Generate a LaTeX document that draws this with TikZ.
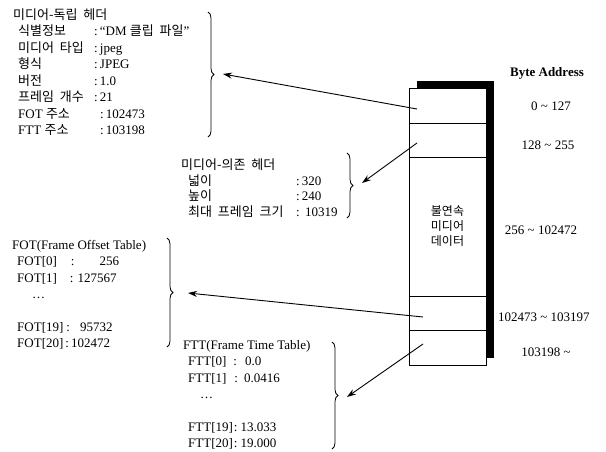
\documentclass[tikz,border=0pt]{standalone}
\usepackage{fontspec}
\setmainfont{Liberation Serif}
\newfontfamily\kr[WordSpace=2]{Noto Sans CJK KR}
\usepackage{tikz}
\usetikzlibrary{arrows.meta,positioning,calc,decorations.pathreplacing}
\newcommand{\fld}[3]{\hspace{5pt}\makebox[#1][l]{#2}:\,#3}

\begin{document}
\begin{tikzpicture}[x=1pt,y=-1pt,
    blk/.style={inner sep=0pt,anchor=base west,font=\fontsize{13}{16.5}\selectfont},
    cell/.style={draw,line width=0.9pt,fill=white,minimum width=77pt,inner sep=0pt,outer sep=0pt},
    addr/.style={inner sep=0pt,anchor=base,font=\fontsize{13}{16}\selectfont},
    brc/.style={decorate,decoration={brace,amplitude=6pt},line width=0.8pt},
    arr/.style={-{Stealth[length=9pt,width=6pt]},line width=0.9pt}]
  \useasboundingbox (0,0) rectangle (606,452);
  % shadow of the file
  \fill (417,81) rectangle (494,358);
  % file layout
  \node[cell,minimum height=35pt,anchor=north west] (hd1) at (409,88) {};
  \node[cell,minimum height=34pt,below=0pt of hd1] (hd2) {};
  \node[cell,minimum height=139pt,below=0pt of hd2,align=center,
        font=\fontsize{12}{15}\kr] (data) {불연속\\미디어\\데이터};
  \node[cell,minimum height=34pt,below=0pt of data] (fotcell) {};
  \node[cell,minimum height=35pt,below=0pt of fotcell] (fttcell) {};
  % byte addresses
  \node[addr,font=\fontsize{13}{16}\selectfont\bfseries] (addrhd) at (547,76.6) {Byte Address};
  \node[addr] (addr1) at (551,110.6) {0 \textasciitilde\ 127};
  \node[addr] (addr2) at (548,149.6) {128 \textasciitilde\ 255};
  \node[addr] (addr3) at (541,234.6) {256 \textasciitilde\ 102472};
  \node[addr,anchor=base west] (addr4) at (498,321.6) {102473 \textasciitilde\ 103197};
  \node[addr] (addr5) at (546,356.6) {103198 \textasciitilde};
  % media-independent header
  \node[blk] (indep) at (13,19.5) {\begin{tabular}[t]{@{}l@{}}
    {\kr 미디어-독립 헤더}\\
    \fld{76pt}{\kr 식별정보}{“DM {\kr 클립 파일}”}\\
    \fld{76pt}{\kr 미디어 타입}{jpeg}\\
    \fld{76pt}{\kr 형식}{JPEG}\\
    \fld{76pt}{\kr 버전}{1.0}\\
    \fld{76pt}{\kr 프레임 개수}{21}\\
    \fld{82pt}{FOT {\kr 주소}}{102473}\\
    \fld{82pt}{FTT {\kr 주소}}{103198}
  \end{tabular}};
  % media-dependent header
  \node[blk] (dep) at (181,169.5) {\renewcommand{\arraystretch}{0.95}%
    \begin{tabular}[t]{@{}l@{}}
    {\kr 미디어-의존 헤더}\\
    \hspace{2pt}\fld{108pt}{\kr 넓이}{320}\\
    \hspace{2pt}\fld{108pt}{\kr 높이}{240}\\
    \hspace{2pt}\fld{108pt}{\kr 최대 프레임 크기}{\ 10319}
  \end{tabular}};
  % frame offset table
  \node[blk] (fot) at (12,249.5) {\renewcommand{\arraystretch}{0.99}%
    \begin{tabular}[t]{@{}l@{}}
    FOT(Frame Offset Table)\\
    \hspace{5pt}FOT[0]\hspace{14pt}:\hspace{25pt}256\\
    \hspace{5pt}FOT[1]\hspace{13pt}:\hspace{4pt}127567\\
    \hspace{20pt}\dots\\
    \\
    \hspace{5pt}FOT[19]\hspace{3pt}:\hspace{10pt}95732\\
    \hspace{5pt}FOT[20]\hspace{2pt}:\hspace{2pt}102472
  \end{tabular}};
  % frame time table
  \node[blk] (ftt) at (183,349.5) {\renewcommand{\arraystretch}{0.99}%
    \begin{tabular}[t]{@{}l@{}}
    FTT(Frame Time Table)\\
    \hspace{5pt}FTT[0]\hspace{7pt}:\hspace{8pt}0.0\\
    \hspace{5pt}FTT[1]\hspace{8pt}:\hspace{6pt}0.0416\\
    \hspace{17pt}\dots\\
    \\
    \hspace{5pt}FTT[19]\hspace{1pt}:\hspace{3pt}13.033\\
    \hspace{5pt}FTT[20]\hspace{1pt}:\hspace{3pt}19.000
  \end{tabular}};
  % braces
  \draw[brc] (208,12) -- (208,137);
  \draw[brc] (347,153) -- (347,218);
  \draw[brc] (167,238) -- (167,347);
  \draw[brc] (332,342) -- (332,449);
  % arrows from the file to the tables
  \coordinate (sA) at ($(hd1.west)+(8,3.5)$);
  \coordinate (sB) at ($(hd2.west)+(8,3)$);
  \coordinate (sC) at ($(fotcell.west)+(14,4)$);
  \coordinate (sD) at ($(fttcell.west)+(14,-3.5)$);
  \coordinate (tA) at (223,74);
  \coordinate (tB) at (362,183);
  \coordinate (tC) at (188,293);
  \coordinate (tD) at (347,397);
  \draw[arr] (sA) -- (tA);
  \draw[arr] (sB) -- (tB);
  \draw[arr] (sC) -- (tC);
  \draw[arr] (sD) -- (tD);
\end{tikzpicture}
\end{document}
